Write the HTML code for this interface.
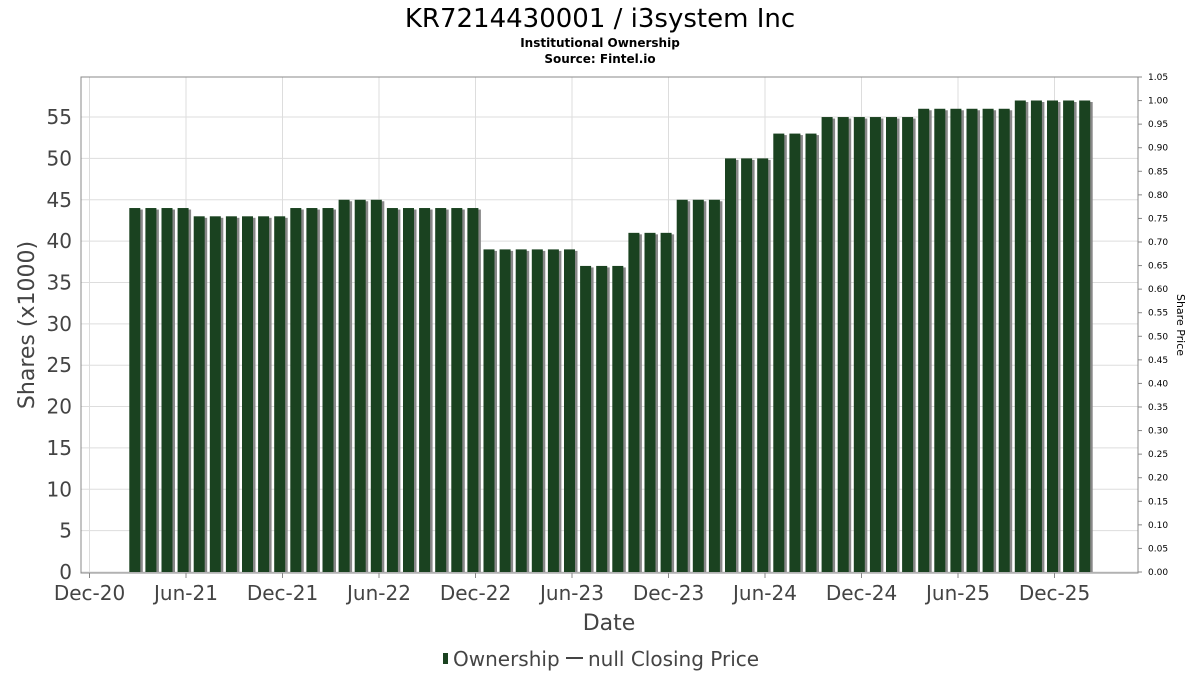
<!DOCTYPE html>
<html><head><meta charset="utf-8"><style>
body{margin:0;background:#fff;font-family:"DejaVu Sans","Liberation Sans",sans-serif}
svg text{font-family:"DejaVu Sans","Liberation Sans",sans-serif}
</style></head><body>
<svg id="c" width="1200" height="675" xmlns="http://www.w3.org/2000/svg">
<text x="600" y="27" text-anchor="middle" font-size="26" fill="#000">KR7214430001 / i3system Inc</text>
<text x="600" y="47" text-anchor="middle" font-size="12" font-weight="bold">Institutional Ownership</text>
<text x="600" y="63" text-anchor="middle" font-size="12" font-weight="bold">Source: Fintel.io</text>
<g id="grid"></g><g id="bars"></g>
<rect x="81" y="77" width="1057" height="496" fill="none" stroke="#888"/>
<g id="axes"></g>
<text x="609" y="630" text-anchor="middle" font-size="22" fill="#444">Date</text>
<text transform="translate(34,325) rotate(-90)" text-anchor="middle" font-size="22" fill="#444">Shares (x1000)</text>
<text transform="translate(1177,325) rotate(90)" text-anchor="middle" font-size="11" fill="#000">Share Price</text>
<g>
<rect x="443" y="653" width="5" height="11" fill="#1a4220"/>
<text x="453" y="666" font-size="20" fill="#444">Ownership</text>
<line x1="566" y1="658" x2="583" y2="658" stroke="#444" stroke-width="2"/>
<text x="588" y="666" font-size="20" fill="#444">null Closing Price</text>
</g>
</svg>
<script>
const values=[44,44,44,44,43,43,43,43,43,43,44,44,44,45,45,45,44,44,44,44,44,44,39,39,39,39,39,39,37,37,37,41,41,41,45,45,45,50,50,50,53,53,53,55,55,55,55,55,55,56,56,56,56,56,56,57,57,57,57,57];
const yTicks=[0,5,10,15,20,25,30,35,40,45,50,55];
const y2Ticks=["0.00","0.05","0.10","0.15","0.20","0.25","0.30","0.35","0.40","0.45","0.50","0.55","0.60","0.65","0.70","0.75","0.80","0.85","0.90","0.95","1.00","1.05"];
const xTicks=["Dec-20","Jun-21","Dec-21","Jun-22","Dec-22","Jun-23","Dec-23","Jun-24","Dec-24","Jun-25","Dec-25"];
const NS="http://www.w3.org/2000/svg";
const y=v=>572-v*8.272;
const y2=v=>572-v*(495/1.05);
const xt=i=>89.5+i*96.5;
const xb=i=>129.3+i*16.1;
function mk(t,a,p){const e=document.createElementNS(NS,t);for(const k in a)e.setAttribute(k,a[k]);p.appendChild(e);return e;}
const G=document.getElementById('grid'),B=document.getElementById('bars'),A=document.getElementById('axes');
yTicks.forEach(v=>{
 const l=mk('line',{x1:81,x2:1138,y1:y(v),y2:y(v),stroke:'#ddd'},G);
 
 
 const t=mk('text',{x:72,y:y(v)+7,'text-anchor':'end','font-size':20,fill:'#444'},A);t.textContent=v;
 
 
});
xTicks.forEach((s,i)=>{
 const l=mk('line',{x1:xt(i),x2:xt(i),y1:77,y2:573,stroke:'#ddd'},G);
 
 
 mk('line',{x1:xt(i),x2:xt(i),y1:573,y2:578,stroke:'#888'},A);
 const t=mk('text',{x:xt(i),y:600,'text-anchor':'middle','font-size':20,fill:'#444'},A);t.textContent=s;
 
 
});
y2Ticks.forEach(s=>{
 const v=parseFloat(s);
 mk('line',{x1:1138,x2:1142,y1:y2(v),y2:y2(v),stroke:'#888'},A);
 const t=mk('text',{x:1148,y:y2(v)+3,'font-size':9,fill:'#000'},A);t.textContent=s;
 
 
});
values.forEach((v,i)=>{
 const x=xb(i);
 const s=mk('rect',{x:x+2.5,y:y(v)+1.5,width:11,height:572-y(v)-1.5,fill:'#888'},B);
 
 
 const r=mk('rect',{x:x,y:y(v),width:11,height:572-y(v),fill:'#1a4220'},B);
 
 
});
</script>
</body></html>
